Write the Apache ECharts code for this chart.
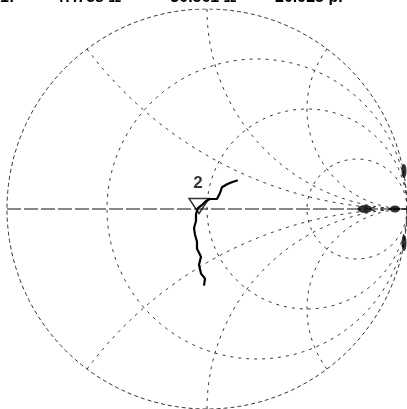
<!DOCTYPE html>
<html>
<head>
<meta charset="utf-8">
<script src="https://cdn.jsdelivr.net/npm/echarts@6/dist/echarts.min.js"></script>
<style>html,body{margin:0;padding:0;background:#fff;}#c{width:407px;height:409px;}</style>
</head>
<body>
<div id="c"></div>
<script>
// Smith chart grid values
var resistanceCircles = [1/3, 1, 3];
var reactanceArcs = [0.5, 1, 2, -0.5, -1, -2];
// Measured trace (reflection coefficient, real / imaginary)
var traceRe = [-0.015,-0.010,-0.030,-0.040,-0.030,-0.050,-0.050,-0.060,-0.065,-0.055,-0.055,-0.045,-0.025,-0.005,0.015,0.050,0.065,0.075,0.100,0.124,0.154];
var traceIm = [-0.383,-0.348,-0.323,-0.279,-0.239,-0.199,-0.164,-0.129,-0.095,-0.060,-0.025,0.005,0.020,0.040,0.050,0.050,0.080,0.109,0.124,0.134,0.144];
// Marker 2
var markerRe = [-0.04];
var markerIm = [-0.02];
var markerLabels = ['2'];
// Spots near the open-circuit end
var spotRe = [0.79, 0.94, 0.985, 0.985];
var spotIm = [0.0, 0.0, 0.19, -0.17];
// Header readout (only its lower edge is visible)
var headerTexts = ['1:', '47.758 Ω', '-30.561 Ω', '20.925 pF'];

function rCircle(r){
  var cx = r/(r+1), rad = 1/(r+1), pts = [];
  for (var i=0;i<=360;i++){var a=i*Math.PI/180; pts.push([cx+rad*Math.cos(a), rad*Math.sin(a)]);}
  return pts;
}
function xArc(x){
  var pts=[];
  for (var i=0;i<=400;i++){
    var t=i/400; var r = t<1 ? t/(1-t) : 1e6;
    if (r>1e6) r=1e6;
    var a=r-1, b=x, c=r+1, d=x, den=c*c+d*d;
    pts.push([(a*c+b*d)/den, (b*c-a*d)/den]);
  }
  pts.push([1,0]);
  return pts;
}
var gridStyle = {color:'#333', width:1, type:[3,5]};
var series = [];
series.push({type:'line', data:rCircle(0), showSymbol:false, silent:true, lineStyle:{color:'#333', width:1, type:[4,3]}, animation:false});
resistanceCircles.forEach(function(r){
  series.push({type:'line', data:rCircle(r), showSymbol:false, silent:true, lineStyle:gridStyle, animation:false});
});
reactanceArcs.forEach(function(x){
  series.push({type:'line', data:xArc(x), showSymbol:false, silent:true, lineStyle:gridStyle, animation:false});
});
series.push({type:'line', data:[[-1,0],[1,0]], showSymbol:false, silent:true, lineStyle:{color:'#111', width:1, type:[14,3]}, animation:false});
series.push({type:'line', data:traceRe.map(function(v,i){return [v, traceIm[i]];}), showSymbol:false, lineStyle:{color:'#000', width:2.2}, animation:false, z:5});
series.push({type:'scatter', data:spotRe.map(function(v,i){return [v, spotIm[i]];}),
  symbol:'circle', symbolSize:function(val,p){return [[15,8],[10,7],[5,14],[5,16]][p.dataIndex];},
  itemStyle:{color:'#000'}, animation:false, z:5});
series.push({type:'scatter', data:markerRe.map(function(v,i){return {value:[v, markerIm[i]], label:{show:true, formatter:markerLabels[i]}};}),
  symbol:'triangle', symbolRotate:180, symbolSize:[20,15], symbolOffset:[0,-7],
  itemStyle:{color:'rgba(0,0,0,0)', borderColor:'#000', borderWidth:1.5},
  label:{position:'top', distance:0, color:'#000', fontSize:17, fontWeight:'bold', fontFamily:'Liberation Sans', offset:[-1,-6]},
  animation:false, z:6});

var chart = echarts.init(document.getElementById('c'), null, {renderer:'canvas'});
chart.setOption({
  backgroundColor:'#fff',
  grid:{left:7, top:9, width:402, height:402},
  xAxis:{type:'value', min:-1, max:1, show:false},
  yAxis:{type:'value', min:-1, max:1, show:false},
  graphic: headerTexts.map(function(t,i){
    return {type:'text', left:[0,55,165,275][i], top:-10, style:{text:t, font:'bold 16px "Liberation Sans"', fill:'#000'}};
  }),
  series:series
});
</script>
</body>
</html>
